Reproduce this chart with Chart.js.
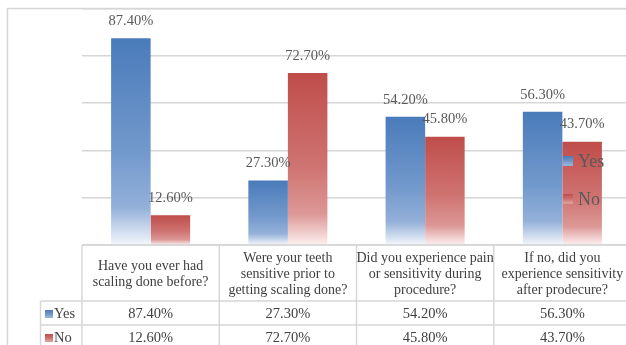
<!DOCTYPE html>
<html>
<head>
<meta charset="utf-8">
<script src="https://cdn.jsdelivr.net/npm/chart.js@4.4.0/dist/chart.umd.min.js"></script>
<style>
html, body { margin: 0; padding: 0; background: #fff; overflow: hidden; }
#wrap { position: relative; width: 640px; height: 360px; }
</style>
</head>
<body>
<div id="wrap"><canvas id="chart" width="640" height="360"></canvas></div>
<script>
var questions = [
    ["Have you ever had", "scaling done before?"],
    ["Were your teeth", "sensitive prior to", "getting scaling done?"],
    ["Did you experience pain", "or sensitivity during", "procedure?"],
    ["If no, did you", "experience sensitivity", "after prodecure?"]
];
var seriesNames = ["Yes", "No"];
var yesValues = [87.4, 27.3, 54.2, 56.3];
var noValues = [12.6, 72.7, 45.8, 43.7];
var yMax = 100;
var yStep = 20;

var blueStops = [[0, "#4a7bba"], [0.55, "#7299cc"], [0.82, "#93b0d9"], [1, "#f4f7fc"]];
var redStops = [[0, "#bf4d4a"], [0.55, "#cf7472"], [0.82, "#dc9896"], [1, "#fdf1f1"]];
var FONT = "'Liberation Serif', 'Times New Roman', serif";
var LINE = "#d6d6d6";

var makeGradient = function(c, y0, y1, stops) {
    var g = c.createLinearGradient(0, y0, 0, y1);
    stops.forEach(s => g.addColorStop(s[0], s[1]));
    return g;
};

var barFill = function(stops) {
    return function(context) {
        var chart = context.chart;
        if (!chart.chartArea || context.type !== "data") return stops[0][1];
        var y = chart.scales.y;
        var top = y.getPixelForValue(context.raw);
        var bottom = y.getPixelForValue(0);
        return makeGradient(chart.ctx, top, bottom, stops);
    };
};

// outer frame of the chart object
var framePlugin = {
    id: "frame",
    beforeDraw: function(chart) {
        var c = chart.ctx;
        c.save();
        c.strokeStyle = LINE;
        c.lineWidth = 1.5;
        c.beginPath();
        c.moveTo(7.5, 400);
        c.lineTo(7.5, 8.5);
        c.lineTo(700, 8.5);
        c.stroke();
        c.restore();
    }
};

// percent labels above each bar
var labelPlugin = {
    id: "barLabels",
    afterDatasetsDraw: function(chart) {
        var c = chart.ctx;
        c.save();
        c.font = "14.5px " + FONT;
        c.fillStyle = "#595959";
        c.textAlign = "center";
        c.textBaseline = "middle";
        chart.data.datasets.forEach((ds, di) => {
            chart.getDatasetMeta(di).data.forEach((bar, i) => {
                c.fillText(ds.data[i].toFixed(2) + "%", bar.x, bar.y - 17);
            });
        });
        c.restore();
    }
};

// legend drawn over the right side of the plot
var legendPlugin = {
    id: "sideLegend",
    afterDraw: function(chart) {
        var c = chart.ctx;
        var rows = [[156, blueStops], [194, redStops]];
        c.save();
        c.font = "18px " + FONT;
        c.textBaseline = "middle";
        rows.forEach((r, i) => {
            c.fillStyle = makeGradient(c, r[0], r[0] + 10, r[1].slice(0, 3));
            c.fillRect(563, r[0], 10, 10);
            c.fillStyle = "#595959";
            c.fillText(seriesNames[i], 578, r[0] + 6);
        });
        c.restore();
    }
};

// data table under the plot
var tablePlugin = {
    id: "dataTable",
    afterDraw: function(chart) {
        var c = chart.ctx;
        var x = chart.scales.x;
        var area = chart.chartArea;
        var n = questions.length;
        var w = (area.right - area.left) / n;
        var top = area.bottom;
        var headBottom = top + 56;
        var rowH = 24;
        var keyLeft = 40.5;
        var bottom = 400;

        c.save();
        c.strokeStyle = LINE;
        c.lineWidth = 1.4;
        c.beginPath();
        c.moveTo(area.left, top);
        c.lineTo(area.right, top);
        for (var r = 0; r < 3; r++) {
            c.moveTo(keyLeft, headBottom + r * rowH);
            c.lineTo(area.right, headBottom + r * rowH);
        }
        for (var i = 0; i <= n; i++) {
            var vx = area.left + i * w;
            c.moveTo(vx, top);
            c.lineTo(vx, bottom);
        }
        c.moveTo(keyLeft, headBottom);
        c.lineTo(keyLeft, bottom);
        c.stroke();

        c.font = "14px " + FONT;
        c.fillStyle = "#404040";
        c.textAlign = "center";
        c.textBaseline = "middle";
        var mid = (top + headBottom) / 2;
        questions.forEach((lines, i) => {
            var cx = x.getPixelForValue(i);
            var y0 = mid - (lines.length - 1) * 16 / 2;
            lines.forEach((t, k) => c.fillText(t, cx, y0 + k * 16 + 1));
        });

        c.font = "14.5px " + FONT;
        chart.data.datasets.forEach((ds, di) => {
            var cy = headBottom + di * rowH + rowH / 2 + 1;
            ds.data.forEach((v, i) => {
                c.fillText(v.toFixed(2) + "%", x.getPixelForValue(i), cy);
            });
            var stops = di === 0 ? blueStops : redStops;
            c.fillStyle = makeGradient(c, cy - 4, cy + 4, stops.slice(0, 3));
            c.fillRect(45, cy - 4, 8, 8);
            c.fillStyle = "#404040";
            c.textAlign = "left";
            c.fillText(ds.label, 54, cy);
            c.textAlign = "center";
        });
        c.restore();
    }
};

new Chart(document.getElementById("chart"), {
    type: "bar",
    data: {
        labels: questions,
        datasets: [
            { label: seriesNames[0], data: yesValues, backgroundColor: barFill(blueStops) },
            { label: seriesNames[1], data: noValues, backgroundColor: barFill(redStops) }
        ]
    },
    options: {
        responsive: false,
        animation: false,
        devicePixelRatio: 1,
        categoryPercentage: 0.576,
        barPercentage: 1,
        layout: { padding: { left: 82, top: 8.5, right: 9, bottom: 115 } },
        plugins: { legend: { display: false }, tooltip: { enabled: false } },
        scales: {
            x: { display: false },
            y: {
                min: 0,
                max: yMax,
                ticks: { display: false, stepSize: yStep },
                grid: { drawTicks: false, color: LINE, lineWidth: 1.4 },
                border: { display: false }
            }
        }
    },
    plugins: [framePlugin, labelPlugin, legendPlugin, tablePlugin]
});
</script>
</body>
</html>
